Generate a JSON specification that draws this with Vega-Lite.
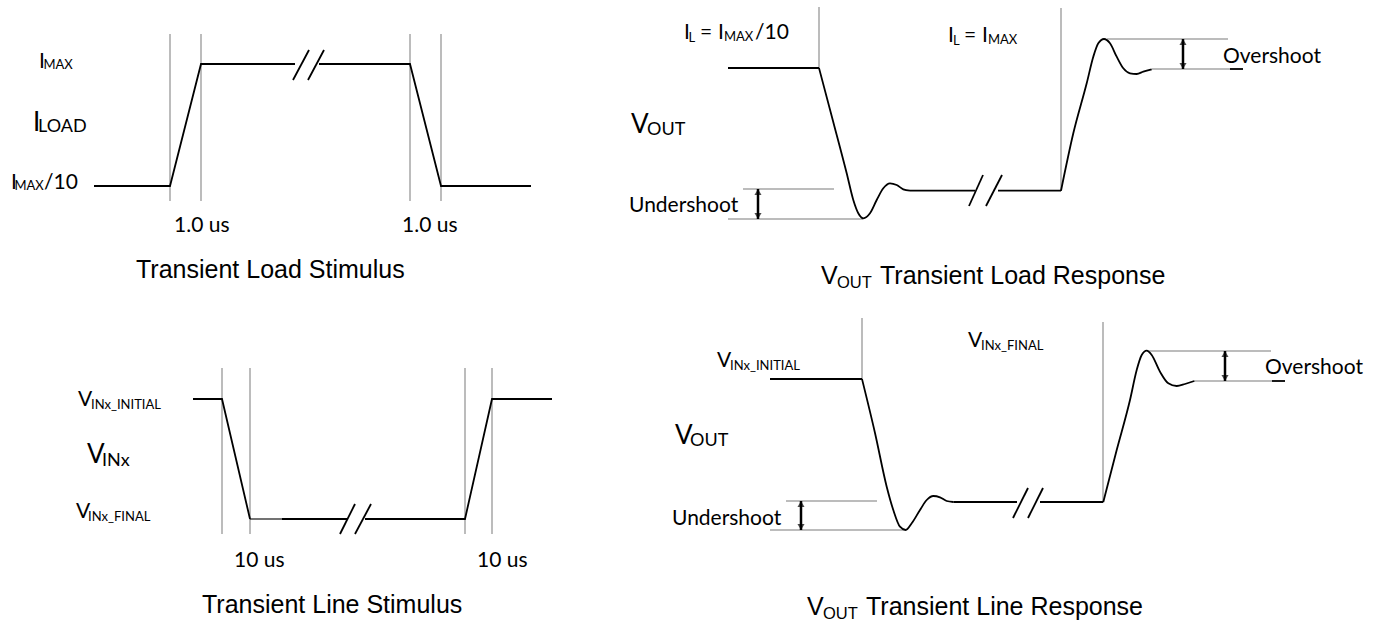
{
  "$schema": "https://vega.github.io/schema/vega-lite/v6.json",
  "width": 1382,
  "height": 627,
  "autosize": {"type": "fit", "contains": "padding"},
  "padding": 0,
  "background": "white",
  "config": {"view": {"stroke": null}},
  "datasets": {
    "poly": [
      {"g": "tl1", "o": 1, "x": 94, "y": 186},
      {"g": "tl1", "o": 2, "x": 170, "y": 186},
      {"g": "tl1", "o": 3, "x": 201, "y": 64},
      {"g": "tl1", "o": 4, "x": 295, "y": 64},
      {"g": "tl2", "o": 1, "x": 319, "y": 64},
      {"g": "tl2", "o": 2, "x": 410, "y": 64},
      {"g": "tl2", "o": 3, "x": 441, "y": 186},
      {"g": "tl2", "o": 4, "x": 531, "y": 186},
      {"g": "bl1", "o": 1, "x": 193, "y": 399},
      {"g": "bl1", "o": 2, "x": 222, "y": 399},
      {"g": "bl1", "o": 3, "x": 250, "y": 519},
      {"g": "bl2", "o": 1, "x": 365, "y": 519},
      {"g": "bl2", "o": 2, "x": 465, "y": 519},
      {"g": "bl2", "o": 3, "x": 492, "y": 399},
      {"g": "bl2", "o": 4, "x": 552, "y": 399}
    ],
    "curve": [
      {"g": "trc1", "o": 1, "x": 819, "y": 68},
      {"g": "trc1", "o": 2, "x": 833, "y": 121},
      {"g": "trc1", "o": 3, "x": 846.7, "y": 173.3},
      {"g": "trc1", "o": 4, "x": 853.3, "y": 200},
      {"g": "trc1", "o": 5, "x": 858.3, "y": 213.3},
      {"g": "trc1", "o": 6, "x": 863.3, "y": 218.3},
      {"g": "trc1", "o": 7, "x": 870, "y": 213.3},
      {"g": "trc1", "o": 8, "x": 876.7, "y": 200},
      {"g": "trc1", "o": 9, "x": 883.3, "y": 188.3},
      {"g": "trc1", "o": 10, "x": 890, "y": 183.3},
      {"g": "trc1", "o": 11, "x": 896.7, "y": 185},
      {"g": "trc1", "o": 12, "x": 903.3, "y": 189.3},
      {"g": "trc1", "o": 13, "x": 910, "y": 190.7},
      {"g": "trc2", "o": 1, "x": 1061, "y": 190.7},
      {"g": "trc2", "o": 2, "x": 1073.3, "y": 133.3},
      {"g": "trc2", "o": 3, "x": 1086.7, "y": 83.3},
      {"g": "trc2", "o": 4, "x": 1093.3, "y": 56.7},
      {"g": "trc2", "o": 5, "x": 1098.3, "y": 43.3},
      {"g": "trc2", "o": 6, "x": 1104, "y": 39},
      {"g": "trc2", "o": 7, "x": 1110, "y": 43.3},
      {"g": "trc2", "o": 8, "x": 1116.7, "y": 56.7},
      {"g": "trc2", "o": 9, "x": 1123.3, "y": 68.3},
      {"g": "trc2", "o": 10, "x": 1130, "y": 73.3},
      {"g": "trc2", "o": 11, "x": 1136.7, "y": 74},
      {"g": "trc2", "o": 12, "x": 1143.3, "y": 71.7},
      {"g": "trc2", "o": 13, "x": 1151.7, "y": 69.3},
      {"g": "brc1", "o": 1, "x": 862, "y": 379},
      {"g": "brc1", "o": 2, "x": 875, "y": 433},
      {"g": "brc1", "o": 3, "x": 886.7, "y": 486.7},
      {"g": "brc1", "o": 4, "x": 893.3, "y": 510},
      {"g": "brc1", "o": 5, "x": 900, "y": 526.7},
      {"g": "brc1", "o": 6, "x": 905.7, "y": 530},
      {"g": "brc1", "o": 7, "x": 911.7, "y": 523.3},
      {"g": "brc1", "o": 8, "x": 920, "y": 510},
      {"g": "brc1", "o": 9, "x": 926.7, "y": 500},
      {"g": "brc1", "o": 10, "x": 933.3, "y": 496},
      {"g": "brc1", "o": 11, "x": 940, "y": 497.3},
      {"g": "brc1", "o": 12, "x": 946.7, "y": 501},
      {"g": "brc1", "o": 13, "x": 953.3, "y": 502},
      {"g": "brc2", "o": 1, "x": 1103.3, "y": 502},
      {"g": "brc2", "o": 2, "x": 1116.7, "y": 450},
      {"g": "brc2", "o": 3, "x": 1130, "y": 400},
      {"g": "brc2", "o": 4, "x": 1136.7, "y": 370},
      {"g": "brc2", "o": 5, "x": 1141.7, "y": 355},
      {"g": "brc2", "o": 6, "x": 1146.7, "y": 350.7},
      {"g": "brc2", "o": 7, "x": 1151.7, "y": 355},
      {"g": "brc2", "o": 8, "x": 1160, "y": 371.7},
      {"g": "brc2", "o": 9, "x": 1168.3, "y": 383.3},
      {"g": "brc2", "o": 10, "x": 1176.7, "y": 386},
      {"g": "brc2", "o": 11, "x": 1185, "y": 384},
      {"g": "brc2", "o": 12, "x": 1194.3, "y": 381}
    ],
    "seg": [
      {"k": "guide", "x": 170, "y": 34, "x2": 170, "y2": 201},
      {"k": "guide", "x": 201, "y": 34, "x2": 201, "y2": 201},
      {"k": "guide", "x": 410, "y": 34, "x2": 410, "y2": 201},
      {"k": "guide", "x": 441, "y": 34, "x2": 441, "y2": 201},
      {"k": "guide", "x": 222, "y": 368, "x2": 222, "y2": 534},
      {"k": "guide", "x": 250, "y": 368, "x2": 250, "y2": 534},
      {"k": "guide", "x": 465, "y": 368, "x2": 465, "y2": 534},
      {"k": "guide", "x": 492, "y": 368, "x2": 492, "y2": 534},
      {"k": "guide", "x": 819, "y": 7, "x2": 819, "y2": 68},
      {"k": "guide", "x": 1061, "y": 8, "x2": 1061, "y2": 190.7},
      {"k": "guide", "x": 743, "y": 189, "x2": 834, "y2": 189},
      {"k": "guide", "x": 728, "y": 219, "x2": 863, "y2": 219},
      {"k": "guide", "x": 1107, "y": 39, "x2": 1228, "y2": 39},
      {"k": "guide", "x": 1152, "y": 69, "x2": 1230, "y2": 69},
      {"k": "guide", "x": 862, "y": 318, "x2": 862, "y2": 379},
      {"k": "guide", "x": 1103, "y": 322, "x2": 1103, "y2": 502},
      {"k": "guide", "x": 786, "y": 501, "x2": 877, "y2": 501},
      {"k": "guide", "x": 770, "y": 530, "x2": 905, "y2": 530},
      {"k": "guide", "x": 1147, "y": 351, "x2": 1271, "y2": 351},
      {"k": "guide", "x": 1194, "y": 381, "x2": 1272, "y2": 381},
      {"k": "thin", "x": 250, "y": 519, "x2": 282, "y2": 519},
      {"k": "sig", "x": 282, "y": 519, "x2": 347, "y2": 519},
      {"k": "sig", "x": 728, "y": 68, "x2": 819, "y2": 68},
      {"k": "sig", "x": 910, "y": 190.7, "x2": 975, "y2": 190.7},
      {"k": "sig", "x": 998, "y": 190.7, "x2": 1061, "y2": 190.7},
      {"k": "sig", "x": 770, "y": 379, "x2": 862, "y2": 379},
      {"k": "sig", "x": 953.3, "y": 502, "x2": 1017, "y2": 502},
      {"k": "sig", "x": 1040, "y": 502, "x2": 1103.3, "y2": 502},
      {"k": "sig", "x": 293, "y": 80, "x2": 309, "y2": 50},
      {"k": "sig", "x": 308, "y": 80, "x2": 324, "y2": 50},
      {"k": "sig", "x": 340, "y": 534, "x2": 355, "y2": 504},
      {"k": "sig", "x": 355, "y": 534, "x2": 371, "y2": 504},
      {"k": "sig", "x": 969, "y": 206, "x2": 983, "y2": 175},
      {"k": "sig", "x": 986, "y": 206, "x2": 1002, "y2": 175},
      {"k": "sig", "x": 1013, "y": 518, "x2": 1028, "y2": 488},
      {"k": "sig", "x": 1028, "y": 518, "x2": 1043, "y2": 488},
      {"k": "sig", "x": 1230, "y": 69, "x2": 1243, "y2": 69},
      {"k": "sig", "x": 1272, "y": 381, "x2": 1285, "y2": 381}
    ],
    "arrows": [
      {"x": 758, "y": 189, "y2": 219},
      {"x": 1183, "y": 39, "y2": 69},
      {"x": 801, "y": 501, "y2": 530},
      {"x": 1225, "y": 351, "y2": 381}
    ],
    "texts": [
      {"r": "lvl", "t": "I", "x": 39, "y": 68},
      {"r": "lvlsub", "t": "MAX", "x": 43.5, "y": 69},
      {"r": "big", "t": "I", "x": 33, "y": 131},
      {"r": "bigsub", "t": "LOAD", "x": 38, "y": 132},
      {"r": "lvl", "t": "I", "x": 11, "y": 189},
      {"r": "lvlsub", "t": "MAX", "x": 14.5, "y": 190},
      {"r": "lvl", "t": "/10", "x": 44, "y": 189},
      {"r": "note", "t": "1.0 us", "x": 174, "y": 232},
      {"r": "note", "t": "1.0 us", "x": 402, "y": 232},
      {"r": "title", "t": "Transient Load Stimulus", "x": 136, "y": 278},
      {"r": "lvl", "t": "V", "x": 78, "y": 406},
      {"r": "lvlsub", "t": "INx_INITIAL", "x": 91, "y": 409},
      {"r": "big", "t": "V", "x": 87, "y": 463},
      {"r": "bigsub", "t": "INx", "x": 102, "y": 466},
      {"r": "lvl", "t": "V", "x": 76, "y": 518},
      {"r": "lvlsub", "t": "INx_FINAL", "x": 88, "y": 521},
      {"r": "note", "t": "10 us", "x": 234, "y": 567},
      {"r": "note", "t": "10 us", "x": 477, "y": 567},
      {"r": "title", "t": "Transient Line Stimulus", "x": 202, "y": 613},
      {"r": "lvl", "t": "I", "x": 684, "y": 39},
      {"r": "lvlsub", "t": "L", "x": 688.5, "y": 42},
      {"r": "lvl", "t": "=", "x": 700, "y": 39},
      {"r": "lvl", "t": "I", "x": 718, "y": 39},
      {"r": "lvlsub", "t": "MAX", "x": 724, "y": 41},
      {"r": "lvl", "t": "/10", "x": 755, "y": 39},
      {"r": "lvl", "t": "I", "x": 948, "y": 42},
      {"r": "lvlsub", "t": "L", "x": 953, "y": 45},
      {"r": "lvl", "t": "=", "x": 964, "y": 42},
      {"r": "lvl", "t": "I", "x": 982, "y": 42},
      {"r": "lvlsub", "t": "MAX", "x": 988, "y": 44},
      {"r": "big", "t": "V", "x": 631, "y": 133},
      {"r": "bigsub", "t": "OUT", "x": 647, "y": 135},
      {"r": "note", "t": "Undershoot", "x": 629, "y": 212},
      {"r": "note", "t": "Overshoot", "x": 1223, "y": 63},
      {"r": "title", "t": "V", "x": 821, "y": 284},
      {"r": "titlesub", "t": "OUT", "x": 837, "y": 288},
      {"r": "title", "t": "Transient Load Response", "x": 880, "y": 284},
      {"r": "lvl", "t": "V", "x": 717, "y": 367},
      {"r": "lvlsub", "t": "INx_INITIAL", "x": 730, "y": 370},
      {"r": "lvl", "t": "V", "x": 968, "y": 347},
      {"r": "lvlsub", "t": "INx_FINAL", "x": 981, "y": 350},
      {"r": "big", "t": "V", "x": 675, "y": 444},
      {"r": "bigsub", "t": "OUT", "x": 690, "y": 446},
      {"r": "note", "t": "Undershoot", "x": 672, "y": 525},
      {"r": "note", "t": "Overshoot", "x": 1265, "y": 374},
      {"r": "title", "t": "V", "x": 807, "y": 615},
      {"r": "titlesub", "t": "OUT", "x": 823, "y": 619},
      {"r": "title", "t": "Transient Line Response", "x": 866, "y": 615}
    ]
  },
  "encoding": {
    "x": {"field": "x", "type": "quantitative", "scale": {"domain": [0, 1382], "nice": false, "zero": false}, "axis": null},
    "y": {"field": "y", "type": "quantitative", "scale": {"domain": [0, 627], "nice": false, "zero": false, "reverse": true}, "axis": null}
  },
  "layer": [
    {
      "data": {"name": "seg"},
      "transform": [{"filter": "datum.k == 'guide'"}],
      "mark": {"type": "rule", "stroke": "#a6a6a6", "strokeWidth": 1.5},
      "encoding": {"x2": {"field": "x2"}, "y2": {"field": "y2"}}
    },
    {
      "data": {"name": "seg"},
      "transform": [{"filter": "datum.k == 'sig'"}],
      "mark": {"type": "rule", "stroke": "black", "strokeWidth": 1.8},
      "encoding": {"x2": {"field": "x2"}, "y2": {"field": "y2"}}
    },
    {
      "data": {"name": "seg"},
      "transform": [{"filter": "datum.k == 'thin'"}],
      "mark": {"type": "rule", "stroke": "black", "strokeWidth": 1.1},
      "encoding": {"x2": {"field": "x2"}, "y2": {"field": "y2"}}
    },
    {
      "data": {"name": "poly"},
      "mark": {"type": "line", "stroke": "black", "strokeWidth": 1.8, "interpolate": "linear"},
      "encoding": {"detail": {"field": "g"}, "order": {"field": "o"}}
    },
    {
      "data": {"name": "curve"},
      "mark": {"type": "line", "stroke": "black", "strokeWidth": 1.8, "interpolate": "monotone"},
      "encoding": {"detail": {"field": "g"}, "order": {"field": "o"}}
    },
    {
      "data": {"name": "arrows"},
      "mark": {"type": "rule", "stroke": "black", "strokeWidth": 2.5},
      "encoding": {"y2": {"field": "y2"}}
    },
    {
      "data": {"name": "arrows"},
      "mark": {"type": "point", "shape": "triangle-up", "filled": true, "color": "black", "size": 50, "yOffset": 3},
      "encoding": {}
    },
    {
      "data": {"name": "arrows"},
      "mark": {"type": "point", "shape": "triangle-down", "filled": true, "color": "black", "size": 50, "yOffset": -3},
      "encoding": {"y": {"field": "y2", "type": "quantitative"}}
    },
    {
      "data": {"name": "texts"},
      "transform": [{"filter": "datum.r == 'title'"}],
      "mark": {"type": "text", "align": "left", "baseline": "alphabetic", "font": "Liberation Sans", "fontSize": 25, "color": "black"},
      "encoding": {"text": {"field": "t"}}
    },
    {
      "data": {"name": "texts"},
      "transform": [{"filter": "datum.r == 'titlesub'"}],
      "mark": {"type": "text", "align": "left", "baseline": "alphabetic", "font": "Liberation Sans", "fontSize": 16.5, "color": "black"},
      "encoding": {"text": {"field": "t"}}
    },
    {
      "data": {"name": "texts"},
      "transform": [{"filter": "datum.r == 'lvl'"}],
      "mark": {"type": "text", "align": "left", "baseline": "alphabetic", "font": "Lato", "fontSize": 21, "color": "black"},
      "encoding": {"text": {"field": "t"}}
    },
    {
      "data": {"name": "texts"},
      "transform": [{"filter": "datum.r == 'lvlsub'"}],
      "mark": {"type": "text", "align": "left", "baseline": "alphabetic", "font": "Lato", "fontSize": 13, "color": "black"},
      "encoding": {"text": {"field": "t"}}
    },
    {
      "data": {"name": "texts"},
      "transform": [{"filter": "datum.r == 'big'"}],
      "mark": {"type": "text", "align": "left", "baseline": "alphabetic", "font": "Lato", "fontSize": 26, "color": "black"},
      "encoding": {"text": {"field": "t"}}
    },
    {
      "data": {"name": "texts"},
      "transform": [{"filter": "datum.r == 'bigsub'"}],
      "mark": {"type": "text", "align": "left", "baseline": "alphabetic", "font": "Lato", "fontSize": 18, "color": "black"},
      "encoding": {"text": {"field": "t"}}
    },
    {
      "data": {"name": "texts"},
      "transform": [{"filter": "datum.r == 'note'"}],
      "mark": {"type": "text", "align": "left", "baseline": "alphabetic", "font": "Lato", "fontSize": 21, "color": "black"},
      "encoding": {"text": {"field": "t"}}
    }
  ]
}
